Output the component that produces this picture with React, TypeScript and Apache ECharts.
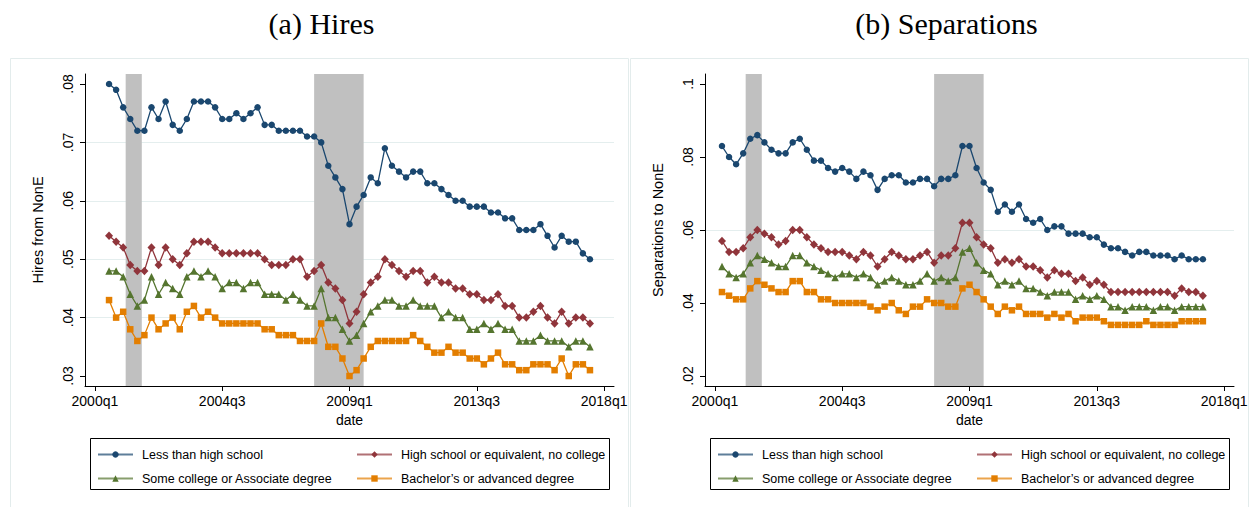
import React, { useEffect, useRef } from 'react';
import * as echarts from 'echarts';

// ---- x axis (quarters counted from 2000q1 = 0) ----
const QUARTER_TICKS = [0, 18, 36, 54, 72];
const QUARTER_TICK_LABELS = ['2000q1', '2004q3', '2009q1', '2013q3', '2018q1'];
const RECESSIONS = [
  [4.35, 6.63],
  [31.0, 38.0],
];

// ---- y axes ----
const HIRES_Y_TICKS = [0.03, 0.04, 0.05, 0.06, 0.07, 0.08];
const HIRES_GRIDLINES = [0.03, 0.04, 0.05, 0.06, 0.07, 0.08];
const SEP_Y_TICKS = [0.02, 0.04, 0.06, 0.08, 0.1];
const SEP_GRIDLINES = [0.04, 0.06, 0.08];

const SERIES_NAMES = [
  'Less than high school',
  'High school or equivalent, no college',
  'Some college or Associate degree',
  'Bachelor\u2019s or advanced degree',
];

// ---- Hires (first quarter 2000q3) ----
const HIRES_START = 2;
const hiresLessHS = [
  0.080, 0.079, 0.076, 0.074, 0.072, 0.072, 0.076, 0.074, 0.077, 0.073,
  0.072, 0.074, 0.077, 0.077, 0.077, 0.076, 0.074, 0.074, 0.075, 0.074,
  0.075, 0.076, 0.073, 0.073, 0.072, 0.072, 0.072, 0.072, 0.071, 0.071,
  0.070, 0.066, 0.064, 0.062, 0.056, 0.059, 0.061, 0.064, 0.063, 0.069,
  0.066, 0.065, 0.064, 0.065, 0.065, 0.063, 0.063, 0.062, 0.061, 0.060,
  0.060, 0.059, 0.059, 0.059, 0.058, 0.058, 0.057, 0.057, 0.055, 0.055,
  0.055, 0.056, 0.054, 0.052, 0.054, 0.053, 0.053, 0.051, 0.050,
];
const hiresHS = [
  0.054, 0.053, 0.052, 0.049, 0.048, 0.048, 0.052, 0.049, 0.052, 0.050,
  0.049, 0.051, 0.053, 0.053, 0.053, 0.052, 0.051, 0.051, 0.051, 0.051,
  0.051, 0.051, 0.050, 0.049, 0.049, 0.049, 0.050, 0.050, 0.047, 0.048,
  0.049, 0.046, 0.045, 0.043, 0.039, 0.041, 0.044, 0.046, 0.047, 0.050,
  0.049, 0.048, 0.047, 0.048, 0.048, 0.046, 0.047, 0.046, 0.046, 0.045,
  0.045, 0.044, 0.044, 0.043, 0.043, 0.044, 0.042, 0.042, 0.040, 0.040,
  0.041, 0.042, 0.040, 0.039, 0.041, 0.039, 0.040, 0.040, 0.039,
];
const hiresSomeCollege = [
  0.048, 0.048, 0.047, 0.044, 0.042, 0.043, 0.047, 0.044, 0.046, 0.045,
  0.044, 0.047, 0.048, 0.047, 0.048, 0.047, 0.045, 0.046, 0.046, 0.045,
  0.046, 0.046, 0.044, 0.044, 0.044, 0.043, 0.044, 0.043, 0.042, 0.042,
  0.045, 0.040, 0.040, 0.038, 0.036, 0.037, 0.039, 0.041, 0.042, 0.043,
  0.043, 0.042, 0.042, 0.043, 0.042, 0.042, 0.042, 0.040, 0.041, 0.040,
  0.040, 0.038, 0.038, 0.039, 0.038, 0.039, 0.038, 0.038, 0.036, 0.036,
  0.036, 0.037, 0.036, 0.036, 0.036, 0.035, 0.036, 0.036, 0.035,
];
const hiresBachelor = [
  0.043, 0.040, 0.041, 0.038, 0.036, 0.037, 0.040, 0.038, 0.039, 0.040,
  0.038, 0.041, 0.042, 0.040, 0.041, 0.040, 0.039, 0.039, 0.039, 0.039,
  0.039, 0.039, 0.038, 0.038, 0.037, 0.037, 0.037, 0.036, 0.036, 0.036,
  0.039, 0.035, 0.035, 0.033, 0.030, 0.031, 0.033, 0.035, 0.036, 0.036,
  0.036, 0.036, 0.036, 0.037, 0.036, 0.035, 0.034, 0.034, 0.035, 0.034,
  0.034, 0.033, 0.033, 0.032, 0.033, 0.034, 0.032, 0.032, 0.031, 0.031,
  0.032, 0.032, 0.032, 0.031, 0.033, 0.030, 0.032, 0.032, 0.031,
];

// ---- Separations (first quarter 2000q2) ----
const SEP_START = 1;
const sepLessHS = [
  0.083, 0.080, 0.078, 0.081, 0.085, 0.086, 0.084, 0.082, 0.081, 0.081,
  0.084, 0.085, 0.082, 0.079, 0.079, 0.077, 0.076, 0.077, 0.076, 0.074,
  0.076, 0.075, 0.071, 0.074, 0.075, 0.075, 0.073, 0.073, 0.074, 0.074,
  0.072, 0.074, 0.074, 0.075, 0.083, 0.083, 0.077, 0.073, 0.071, 0.065,
  0.067, 0.065, 0.067, 0.063, 0.062, 0.063, 0.060, 0.061, 0.061, 0.059,
  0.059, 0.059, 0.058, 0.058, 0.056, 0.055, 0.055, 0.054, 0.053, 0.054,
  0.054, 0.053, 0.053, 0.053, 0.052, 0.053, 0.052, 0.052, 0.052,
];
const sepHS = [
  0.057, 0.054, 0.054, 0.055, 0.058, 0.060, 0.059, 0.058, 0.056, 0.057,
  0.060, 0.060, 0.058, 0.056, 0.055, 0.054, 0.054, 0.054, 0.053, 0.052,
  0.054, 0.053, 0.050, 0.052, 0.054, 0.053, 0.052, 0.052, 0.053, 0.054,
  0.051, 0.053, 0.053, 0.055, 0.062, 0.062, 0.058, 0.056, 0.055, 0.051,
  0.052, 0.051, 0.052, 0.050, 0.050, 0.049, 0.047, 0.049, 0.048, 0.048,
  0.046, 0.047, 0.045, 0.046, 0.045, 0.043, 0.043, 0.043, 0.043, 0.043,
  0.043, 0.043, 0.043, 0.043, 0.042, 0.044, 0.043, 0.043, 0.042,
];
const sepSomeCollege = [
  0.050, 0.048, 0.047, 0.048, 0.051, 0.053, 0.052, 0.051, 0.050, 0.050,
  0.053, 0.053, 0.051, 0.050, 0.049, 0.048, 0.047, 0.048, 0.048, 0.047,
  0.048, 0.047, 0.045, 0.046, 0.047, 0.046, 0.045, 0.045, 0.046, 0.048,
  0.046, 0.047, 0.046, 0.047, 0.054, 0.055, 0.051, 0.049, 0.048, 0.045,
  0.046, 0.045, 0.046, 0.044, 0.044, 0.043, 0.042, 0.043, 0.043, 0.043,
  0.041, 0.042, 0.041, 0.042, 0.041, 0.039, 0.039, 0.038, 0.039, 0.039,
  0.039, 0.038, 0.039, 0.039, 0.038, 0.039, 0.039, 0.039, 0.039,
];
const sepBachelor = [
  0.043, 0.042, 0.041, 0.041, 0.044, 0.046, 0.045, 0.044, 0.043, 0.043,
  0.046, 0.046, 0.043, 0.043, 0.041, 0.041, 0.040, 0.040, 0.040, 0.040,
  0.040, 0.039, 0.038, 0.039, 0.040, 0.038, 0.037, 0.039, 0.039, 0.041,
  0.040, 0.040, 0.039, 0.039, 0.044, 0.045, 0.043, 0.041, 0.039, 0.037,
  0.039, 0.038, 0.039, 0.037, 0.037, 0.037, 0.036, 0.037, 0.036, 0.037,
  0.035, 0.036, 0.036, 0.036, 0.035, 0.034, 0.034, 0.034, 0.034, 0.034,
  0.035, 0.034, 0.034, 0.034, 0.034, 0.035, 0.035, 0.035, 0.035,
];

// ---- styles ----
const COLORS = ['#1a476f', '#90353b', '#55752f', '#e37e00'];
const SYMBOLS = ['circle', 'diamond', 'triangle', 'rect'];
const SYMBOL_SIZES: any[] = [6.5, [8, 8.5], 7.5, 6.5];
const SANS = '"Liberation Sans", Arial, sans-serif';
const SERIF = '"Liberation Serif", "Times New Roman", serif';
const GRID_COLOR = '#e4eeee';

const PANELS = [
  {
    title: '(a) Hires',
    yName: 'Hires from NonE',
    start: HIRES_START,
    values: [hiresLessHS, hiresHS, hiresSomeCollege, hiresBachelor],
    yMin: 0.02829,
    yMax: 0.08171,
    yTicks: HIRES_Y_TICKS,
    gridlines: HIRES_GRIDLINES,
    left: 85,
  },
  {
    title: '(b) Separations',
    yName: 'Separations to NonE',
    start: SEP_START,
    values: [sepLessHS, sepHS, sepSomeCollege, sepBachelor],
    yMin: 0.01726,
    yMax: 0.10274,
    yTicks: SEP_Y_TICKS,
    gridlines: SEP_GRIDLINES,
    left: 705,
  },
];

const GRID_TOP = 74;
const GRID_W = 529;
const GRID_H = 312;
const X_MIN = -1.4;
const X_MAX = 73.4;

const fmtY = (v: number) => String(+v.toFixed(3)).replace(/^0\./, '.');
const fmtX = (v: number) => {
  const k = QUARTER_TICKS.indexOf(Math.round(v));
  return k >= 0 ? QUARTER_TICK_LABELS[k] : '';
};

function buildOption() {
  const grid: any[] = [];
  const xAxis: any[] = [];
  const yAxis: any[] = [];
  const series: any[] = [];
  const legend: any[] = [];
  const graphic: any[] = [];

  PANELS.forEach((p, pi) => {
    grid.push({ left: p.left, top: GRID_TOP, width: GRID_W, height: GRID_H, containLabel: false });
    xAxis.push({
      type: 'value',
      gridIndex: pi,
      min: X_MIN,
      max: X_MAX,
      name: 'date',
      nameLocation: 'middle',
      nameGap: 25,
      nameTextStyle: { fontFamily: SANS, fontSize: 14, color: '#000' },
      axisLine: { show: true, onZero: false, lineStyle: { color: '#000', width: 1 } },
      axisTick: { show: true, length: 5, customValues: QUARTER_TICKS, lineStyle: { color: '#000', width: 1 } },
      axisLabel: { customValues: QUARTER_TICKS, formatter: fmtX, margin: 8, fontFamily: SANS, fontSize: 14, color: '#000' },
      splitLine: { show: false },
    });
    // main y axis
    yAxis.push({
      type: 'value',
      gridIndex: pi,
      min: p.yMin,
      max: p.yMax,
      name: p.yName,
      nameLocation: 'middle',
      nameGap: 40,
      nameRotate: 90,
      nameTextStyle: { fontFamily: SANS, fontSize: 14.5, color: '#000' },
      axisLine: { show: true, onZero: false, lineStyle: { color: '#000', width: 1 } },
      axisTick: { show: true, length: 5, customValues: p.yTicks, lineStyle: { color: '#000', width: 1 } },
      axisLabel: { customValues: p.yTicks, formatter: fmtY, rotate: 90, margin: 10, fontFamily: SANS, fontSize: 14, color: '#000' },
      splitLine: { show: false },
    });
    // gridline-only y axis
    yAxis.push({
      type: 'value',
      gridIndex: pi,
      min: p.yMin,
      max: p.yMax,
      position: 'left',
      axisLine: { show: false },
      axisLabel: { show: false, customValues: p.gridlines },
      axisTick: { show: false, customValues: p.gridlines },
      splitLine: {
        show: true,
        customValues: p.gridlines,
        showMinLine: false,
        showMaxLine: false,
        lineStyle: { color: GRID_COLOR, width: 1 },
      },
    });

    p.values.forEach((vals, si) => {
      const s: any = {
        type: 'line',
        name: SERIES_NAMES[si],
        xAxisIndex: pi,
        yAxisIndex: pi * 2,
        data: vals.map((v, k) => [p.start + k, v]),
        symbol: SYMBOLS[si],
        symbolSize: SYMBOL_SIZES[si],
        showSymbol: true,
        showAllSymbol: true,
        color: COLORS[si],
        itemStyle: { color: COLORS[si] },
        lineStyle: { color: COLORS[si], width: 1.3 },
        emphasis: { disabled: true },
        silent: true,
        z: 3 + si,
      };
      if (si === 0) {
        s.markArea = {
          silent: true,
          itemStyle: { color: '#c0c0c0', opacity: 1, borderWidth: 0 },
          label: { show: false },
          emphasis: { disabled: true },
          data: RECESSIONS.map(([a, b]) => [{ xAxis: a }, { xAxis: b }]),
        };
      }
      series.push(s);
    });

    // legend box and items
    const boxX = p.left + 5;
    const boxY = 438;
    graphic.push({
      type: 'rect',
      shape: { x: boxX + 0.5, y: boxY + 0.5, width: 519, height: 51 },
      style: { fill: 'none', stroke: '#000', lineWidth: 1 },
      silent: true,
    });
    const legendPos = [
      [boxX + 7, boxY + 10],
      [boxX + 266, boxY + 10],
      [boxX + 7, boxY + 34],
      [boxX + 266, boxY + 34],
    ];
    SERIES_NAMES.forEach((nm, li) => {
      legend.push({
        data: [nm],
        left: legendPos[li][0],
        top: legendPos[li][1],
        padding: 0,
        itemWidth: 35,
        itemHeight: 8,
        selectedMode: false,
        lineStyle: { opacity: 0.7 },
        textStyle: { fontFamily: SANS, fontSize: 12.5, color: '#000', padding: [0, 0, 0, 4] },
      });
    });

    // panel frame
    graphic.push({
      type: 'rect',
      shape: { x: pi === 0 ? 10.5 : 630.5, y: 58.5, width: 618, height: 470 },
      style: { fill: 'none', stroke: '#e3ecec', lineWidth: 1 },
      silent: true,
      z: -1,
    });
    // title
    graphic.push({
      type: 'text',
      x: p.left + GRID_W / 2 - 28 + (pi === 0 ? 0 : 5),
      y: 23,
      style: {
        text: p.title,
        fontFamily: SERIF,
        fontSize: 30,
        fill: '#000',
        textAlign: 'center',
        textVerticalAlign: 'middle',
      },
      silent: true,
    });
  });

  return {
    animation: false,
    backgroundColor: '#ffffff',
    grid,
    xAxis,
    yAxis,
    series,
    legend,
    graphic,
  };
}

export default function App() {
  const ref = useRef<HTMLDivElement>(null);
  useEffect(() => {
    if (!ref.current) return;
    const chart = echarts.init(ref.current, null, { renderer: 'svg' });
    chart.setOption(buildOption() as any);
    return () => chart.dispose();
  }, []);
  return (
    <div
      ref={ref}
      style={{ position: 'absolute', left: 0, top: 0, width: 1257, height: 507, background: '#fff' }}
    />
  );
}
